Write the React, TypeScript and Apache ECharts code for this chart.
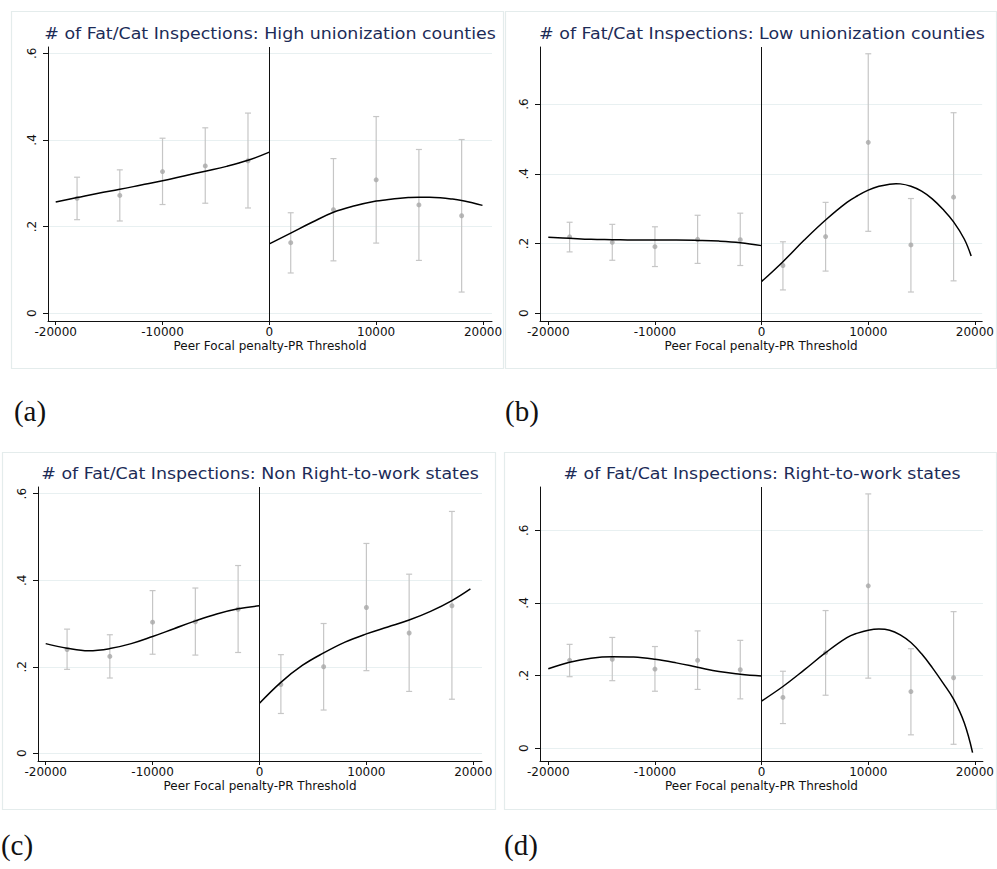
import React, { useEffect, useRef } from "react";
import * as echarts from "echarts";

// ---------- data ----------
const binX = [-18000, -14000, -10000, -6000, -2000, 2000, 6000, 10000, 14000, 18000];
const fitLeftX = [-20000, -18000, -16000, -14000, -12000, -10000, -8000, -6000, -4000, -2000, 0];
const xTicks = [-20000, -10000, 0, 10000, 20000];
const yTicks = [0, 0.2, 0.4, 0.6];
const yTickLabels = ["0", ".2", ".4", ".6"];
const xAxisTitle = "Peer Focal penalty-PR Threshold";

// (a) High unionization counties
const aMean = [0.265, 0.272, 0.327, 0.340, 0.352, 0.163, 0.239, 0.308, 0.250, 0.225];
const aLo = [0.216, 0.213, 0.251, 0.254, 0.243, 0.093, 0.121, 0.162, 0.122, 0.049];
const aHi = [0.314, 0.331, 0.404, 0.428, 0.462, 0.232, 0.357, 0.454, 0.378, 0.401];
const aFitLeft = [0.257, 0.267, 0.277, 0.286, 0.296, 0.306, 0.317, 0.328, 0.339, 0.353, 0.372];
const aFitRightX = [0, 2000, 4000, 6000, 8000, 10000, 11000, 12000, 13000, 14000, 15000, 16000, 17000, 18000, 19000, 19950];
const aFitRight = [0.160, 0.185, 0.210, 0.233, 0.248, 0.259, 0.262, 0.265, 0.267, 0.268, 0.2678, 0.2665, 0.264, 0.2605, 0.255, 0.249];

// (b) Low unionization counties
const bMean = [0.219, 0.2035, 0.191, 0.212, 0.211, 0.137, 0.220, 0.490, 0.196, 0.333];
const bLo = [0.176, 0.152, 0.134, 0.143, 0.137, 0.067, 0.121, 0.235, 0.061, 0.093];
const bHi = [0.261, 0.255, 0.248, 0.281, 0.287, 0.205, 0.318, 0.744, 0.329, 0.575];
const bFitLeft = [0.218, 0.215, 0.212, 0.211, 0.210, 0.210, 0.210, 0.209, 0.207, 0.2025, 0.194];
const bFitRightX = [0, 2000, 4000, 6000, 8000, 9000, 10000, 11000, 12000, 12600, 13000, 14000, 15000, 16000, 17000, 18000, 19000, 19650];
const bFitRight = [0.091, 0.148, 0.210, 0.2675, 0.318, 0.337, 0.353, 0.364, 0.370, 0.3715, 0.371, 0.364, 0.350, 0.328, 0.298, 0.262, 0.213, 0.164];

// (c) Non Right-to-work states
const cMean = [0.240, 0.224, 0.303, 0.304, 0.333, 0.159, 0.200, 0.337, 0.278, 0.341];
const cLo = [0.194, 0.174, 0.229, 0.227, 0.233, 0.092, 0.100, 0.191, 0.143, 0.125];
const cHi = [0.287, 0.274, 0.376, 0.382, 0.434, 0.228, 0.300, 0.485, 0.414, 0.559];
const cFitLeft = [0.2535, 0.243, 0.237, 0.242, 0.2535, 0.270, 0.288, 0.306, 0.322, 0.334, 0.341];
const cFitRightX = [0, 2000, 4000, 6000, 8000, 10000, 12000, 14000, 16000, 18000, 19730];
const cFitRight = [0.1156, 0.164, 0.203, 0.232, 0.257, 0.276, 0.292, 0.308, 0.328, 0.353, 0.380];

// (d) Right-to-work states
const dMean = [0.242, 0.245, 0.218, 0.242, 0.216, 0.140, 0.263, 0.447, 0.156, 0.194];
const dLo = [0.197, 0.186, 0.157, 0.162, 0.136, 0.068, 0.146, 0.193, 0.037, 0.011];
const dHi = [0.286, 0.305, 0.280, 0.323, 0.297, 0.212, 0.379, 0.700, 0.274, 0.376];
const dFitLeft = [0.219, 0.237, 0.248, 0.252, 0.251, 0.245, 0.235, 0.223, 0.211, 0.204, 0.199];
const dFitRightX = [0, 2000, 4000, 6000, 8000, 9000, 10000, 11000, 12000, 13000, 14000, 15000, 16000, 17000, 18000, 19000, 19780];
const dFitRight = [0.130, 0.170, 0.2156, 0.263, 0.3046, 0.317, 0.325, 0.328, 0.325, 0.312, 0.291, 0.260, 0.222, 0.180, 0.135, 0.070, -0.012];

const titles = [
  "# of Fat/Cat Inspections: High unionization counties",
  "# of Fat/Cat Inspections: Low unionization counties",
  "# of Fat/Cat Inspections: Non Right-to-work states",
  "# of Fat/Cat Inspections: Right-to-work states",
];
const tags = ["(a)", "(b)", "(c)", "(d)"];

const panelData = [
  { mean: aMean, lo: aLo, hi: aHi, fitL: aFitLeft, fitRX: aFitRightX, fitR: aFitRight },
  { mean: bMean, lo: bLo, hi: bHi, fitL: bFitLeft, fitRX: bFitRightX, fitR: bFitRight },
  { mean: cMean, lo: cLo, hi: cHi, fitL: cFitLeft, fitRX: cFitRightX, fitR: cFitRight },
  { mean: dMean, lo: dLo, hi: dHi, fitL: dFitLeft, fitRX: dFitRightX, fitR: dFitRight },
];

// ---------- layout ----------
const layouts = [
  { left: 48, top: 47, width: 444, height: 274, xMin: -20721, xMax: 20842, yMin: -0.0178, yMax: 0.6145,
    frame: [11, 11, 492, 357], titleX: 270, titleY: 33, tagX: 30, tagY: 411 },
  { left: 540, top: 47, width: 443, height: 274, xMin: -20777, xMax: 20683, yMin: -0.0221, yMax: 0.7634,
    frame: [505, 11, 491, 357], titleX: 762, titleY: 33, tagX: 522, tagY: 411 },
  { left: 38, top: 487, width: 444, height: 274, xMin: -20720, xMax: 20814, yMin: -0.0178, yMax: 0.6155,
    frame: [2, 452, 493, 357], titleX: 260, titleY: 473, tagX: 17, tagY: 845 },
  { left: 540, top: 487, width: 443, height: 274, xMin: -20777, xMax: 20750, yMin: -0.035, yMax: 0.719,
    frame: [504, 452, 492, 357], titleX: 762, titleY: 473, tagX: 521, tagY: 845 },
];

const FONT = "DejaVu Sans";
const TITLE_COLOR = "#1c2b57";
const DOT_COLOR = "#a8a8a8";
const BAR_COLOR = "#c6c6c6";
const GRID_COLOR = "#e8f0f1";
const FRAME_COLOR = "#e4ecec";

function buildOption() {
  const grid: any[] = [];
  const xAxis: any[] = [];
  const yAxis: any[] = [];
  const series: any[] = [];
  const graphic: any[] = [];

  layouts.forEach((L, i) => {
    const d = panelData[i];
    grid.push({ left: L.left, top: L.top, width: L.width, height: L.height, containLabel: false });
    xAxis.push({
      type: "value",
      gridIndex: i,
      min: L.xMin,
      max: L.xMax,
      axisLine: { show: true, onZero: false, lineStyle: { color: "#111", width: 1 } },
      axisTick: { show: true, length: 4, customValues: xTicks, lineStyle: { color: "#111" } },
      axisLabel: {
        customValues: xTicks,
        formatter: (v: number) => String(v),
        fontSize: 12,
        fontFamily: FONT,
        color: "#111",
        margin: 5,
      },
      splitLine: { show: false },
      name: xAxisTitle,
      nameLocation: "middle",
      nameGap: 19,
      nameTextStyle: { fontSize: 12, fontFamily: FONT, color: "#111" },
    });
    yAxis.push({
      type: "value",
      gridIndex: i,
      min: L.yMin,
      max: L.yMax,
      axisLine: { show: true, onZero: false, lineStyle: { color: "#111", width: 1 } },
      axisTick: { show: true, length: 5, customValues: yTicks, lineStyle: { color: "#111" } },
      axisLabel: {
        customValues: yTicks,
        rotate: 90,
        formatter: (v: number) => {
          const k = yTicks.findIndex((t) => Math.abs(t - v) < 1e-9);
          return k >= 0 ? yTickLabels[k] : "";
        },
        fontSize: 12,
        fontFamily: FONT,
        color: "#111",
        margin: 10,
      },
      splitLine: { show: true, lineStyle: { color: GRID_COLOR, width: 1 } },
    });

    series.push({
      type: "custom",
      xAxisIndex: i,
      yAxisIndex: i,
      z: 2,
      silent: true,
      encode: { x: 0, y: [1, 2] },
      data: binX.map((x, k) => [x, d.lo[k], d.hi[k]]),
      renderItem: (params: any, api: any) => {
        const x = api.value(0);
        const top = api.coord([x, api.value(2)]);
        const bot = api.coord([x, api.value(1)]);
        const w = 3;
        const style = { stroke: BAR_COLOR, lineWidth: 1.2 };
        return {
          type: "group",
          children: [
            { type: "line", shape: { x1: top[0], y1: top[1], x2: bot[0], y2: bot[1] }, style },
            { type: "line", shape: { x1: top[0] - w, y1: top[1], x2: top[0] + w, y2: top[1] }, style },
            { type: "line", shape: { x1: bot[0] - w, y1: bot[1], x2: bot[0] + w, y2: bot[1] }, style },
          ],
        };
      },
    });
    series.push({
      type: "scatter",
      xAxisIndex: i,
      yAxisIndex: i,
      z: 3,
      symbol: "circle",
      symbolSize: 5,
      itemStyle: { color: DOT_COLOR },
      data: binX.map((x, k) => [x, d.mean[k]]),
      markLine: {
        silent: true,
        symbol: ["none", "none"],
        label: { show: false },
        lineStyle: { color: "#111", width: 1, type: "solid" },
        data: [{ xAxis: 0 }],
      },
    });
    series.push({
      type: "line",
      xAxisIndex: i,
      yAxisIndex: i,
      z: 4,
      showSymbol: false,
      smooth: 0.4,
      lineStyle: { color: "#000", width: 1.5 },
      data: fitLeftX.map((x, k) => [x, d.fitL[k]]),
    });
    series.push({
      type: "line",
      xAxisIndex: i,
      yAxisIndex: i,
      z: 4,
      showSymbol: false,
      smooth: 0.4,
      lineStyle: { color: "#000", width: 1.5 },
      data: d.fitRX.map((x, k) => [x, d.fitR[k]]),
    });

    const [fx, fy, fw, fh] = L.frame;
    graphic.push({
      type: "rect",
      z: -10,
      silent: true,
      shape: { x: fx + 0.5, y: fy + 0.5, width: fw, height: fh },
      style: { fill: "none", stroke: FRAME_COLOR, lineWidth: 1.2 },
    });
    graphic.push({
      type: "text",
      x: L.titleX,
      y: L.titleY,
      scaleX: 1.09,
      silent: true,
      style: {
        text: titles[i],
        fontSize: 16,
        fontFamily: FONT,
        fill: TITLE_COLOR,
        align: "center",
        verticalAlign: "middle",
        textAlign: "center",
        textVerticalAlign: "middle",
      },
    });
    graphic.push({
      type: "text",
      x: L.tagX,
      y: L.tagY,
      silent: true,
      style: {
        text: tags[i],
        fontSize: 29,
        fontFamily: "Liberation Serif",
        fill: "#111",
        align: "center",
        verticalAlign: "middle",
        textAlign: "center",
        textVerticalAlign: "middle",
      },
    });
  });

  return {
    animation: false,
    backgroundColor: "#ffffff",
    grid,
    xAxis,
    yAxis,
    series,
    graphic,
  };
}

export default function App() {
  const ref = useRef<HTMLDivElement>(null);
  useEffect(() => {
    if (!ref.current) return;
    const chart = echarts.init(ref.current, undefined, { renderer: "svg" });
    chart.setOption(buildOption());
    return () => chart.dispose();
  }, []);
  return (
    <div
      ref={ref}
      style={{ position: "absolute", left: 0, top: 0, width: 997, height: 869, background: "#fff" }}
    />
  );
}
